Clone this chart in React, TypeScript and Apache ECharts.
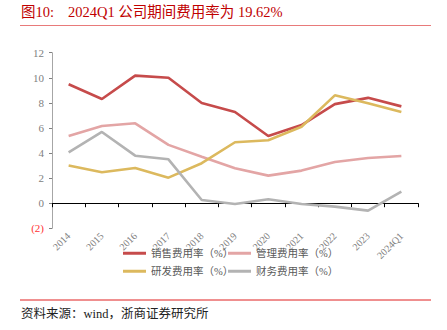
import React, { useEffect, useRef } from "react";
import * as echarts from "echarts";

const categories = ["2014", "2015", "2016", "2017", "2018", "2019", "2020", "2021", "2022", "2023", "2024Q1"];
const salesRate = [9.48, 8.31, 10.17, 10.0, 7.99, 7.27, 5.36, 6.23, 7.9, 8.4, 7.72];
const mgmtRate = [5.36, 6.15, 6.37, 4.65, 3.71, 2.79, 2.2, 2.6, 3.29, 3.61, 3.77];
const rdRate = [3.0, 2.47, 2.81, 2.04, 3.19, 4.86, 5.02, 6.1, 8.6, 7.97, 7.27];
const finRate = [4.06, 5.68, 3.79, 3.5, 0.26, -0.06, 0.32, -0.06, -0.27, -0.59, 0.92];
const seriesNames = ["销售费用率（%）", "管理费用率（%）", "研发费用率（%）", "财务费用率（%）"];
const seriesColors = ["#c64b4b", "#e3a5a5", "#dcb95e", "#b3b3b3"];
const titleLabel = "图10:";
const titleText = "2024Q1 公司期间费用率为 19.62%";
const sourceText = "资料来源：wind，浙商证券研究所";

const serif = "'Liberation Serif', 'Noto Sans CJK SC', serif";

export default function App() {
  const ref = useRef<HTMLDivElement>(null);
  useEffect(() => {
    document.body.style.margin = "0";
    const chart = echarts.init(ref.current!, null, { renderer: "svg" });
    const data = [salesRate, mgmtRate, rdRate, finRate];
    const legendPos = [
      { left: 123, top: 248 },
      { left: 228, top: 248 },
      { left: 123, top: 266 },
      { left: 228, top: 266 },
    ];
    chart.setOption({
      animation: false,
      backgroundColor: "#ffffff",
      grid: { left: 52, right: 29, top: 52.7, height: 175.6, containLabel: false },
      legend: seriesNames.map((n, i) => ({
        data: [n],
        left: legendPos[i].left,
        top: legendPos[i].top,
        padding: 0,
        icon: "rect",
        itemWidth: 23,
        itemHeight: 3,
        textStyle: { fontSize: 10.5, color: "#595959", fontFamily: serif },
      })),
      xAxis: {
        type: "category",
        data: categories,
        boundaryGap: true,
        axisLine: { onZero: true, lineStyle: { color: "#000000", width: 1 } },
        axisTick: { show: true, length: 4, lineStyle: { color: "#000000" } },
        axisLabel: { rotate: 45, color: "#808080", fontSize: 10, fontFamily: serif, margin: 6, interval: 0 },
      },
      yAxis: {
        type: "value",
        min: -2,
        max: 12,
        interval: 2,
        splitLine: { show: false },
        axisLine: { show: true, lineStyle: { color: "#a6a6a6" } },
        axisTick: { show: true, length: 3, lineStyle: { color: "#808080" } },
        axisLabel: {
          fontSize: 11,
          fontFamily: serif,
          margin: 8,
          formatter: (v: number) => (v < 0 ? `{neg|(${Math.abs(v)})}` : `${v}`),
          color: "#808080",
          rich: { neg: { color: "#ff3333", fontSize: 11, fontFamily: serif } },
        },
      },
      series: seriesNames.map((n, i) => ({
        name: n,
        type: "line",
        data: data[i],
        symbol: "none",
        color: seriesColors[i],
        lineStyle: { width: 2.6, color: seriesColors[i] },
      })),
      graphic: [
        {
          type: "text",
          left: 21,
          top: 4.5,
          style: { text: titleLabel, fontSize: 14.5, fill: "#c00000", fontFamily: serif },
        },
        {
          type: "text",
          left: 68,
          top: 4.5,
          style: { text: titleText, fontSize: 14.5, fill: "#c00000", fontFamily: serif },
        },
        {
          type: "line",
          shape: { x1: 20, y1: 25.5, x2: 431, y2: 25.5 },
          style: { stroke: "#e87a7a", lineWidth: 1.2 },
        },
        {
          type: "line",
          shape: { x1: 20, y1: 300, x2: 431, y2: 300 },
          style: { stroke: "#e02020", lineWidth: 1 },
        },
        {
          type: "text",
          left: 21,
          top: 307.5,
          style: { text: sourceText, fontSize: 12.5, fill: "#222222", fontFamily: serif },
        },
      ],
    });
    return () => chart.dispose();
  }, []);
  return <div ref={ref} style={{ width: 447, height: 330 }} />;
}
